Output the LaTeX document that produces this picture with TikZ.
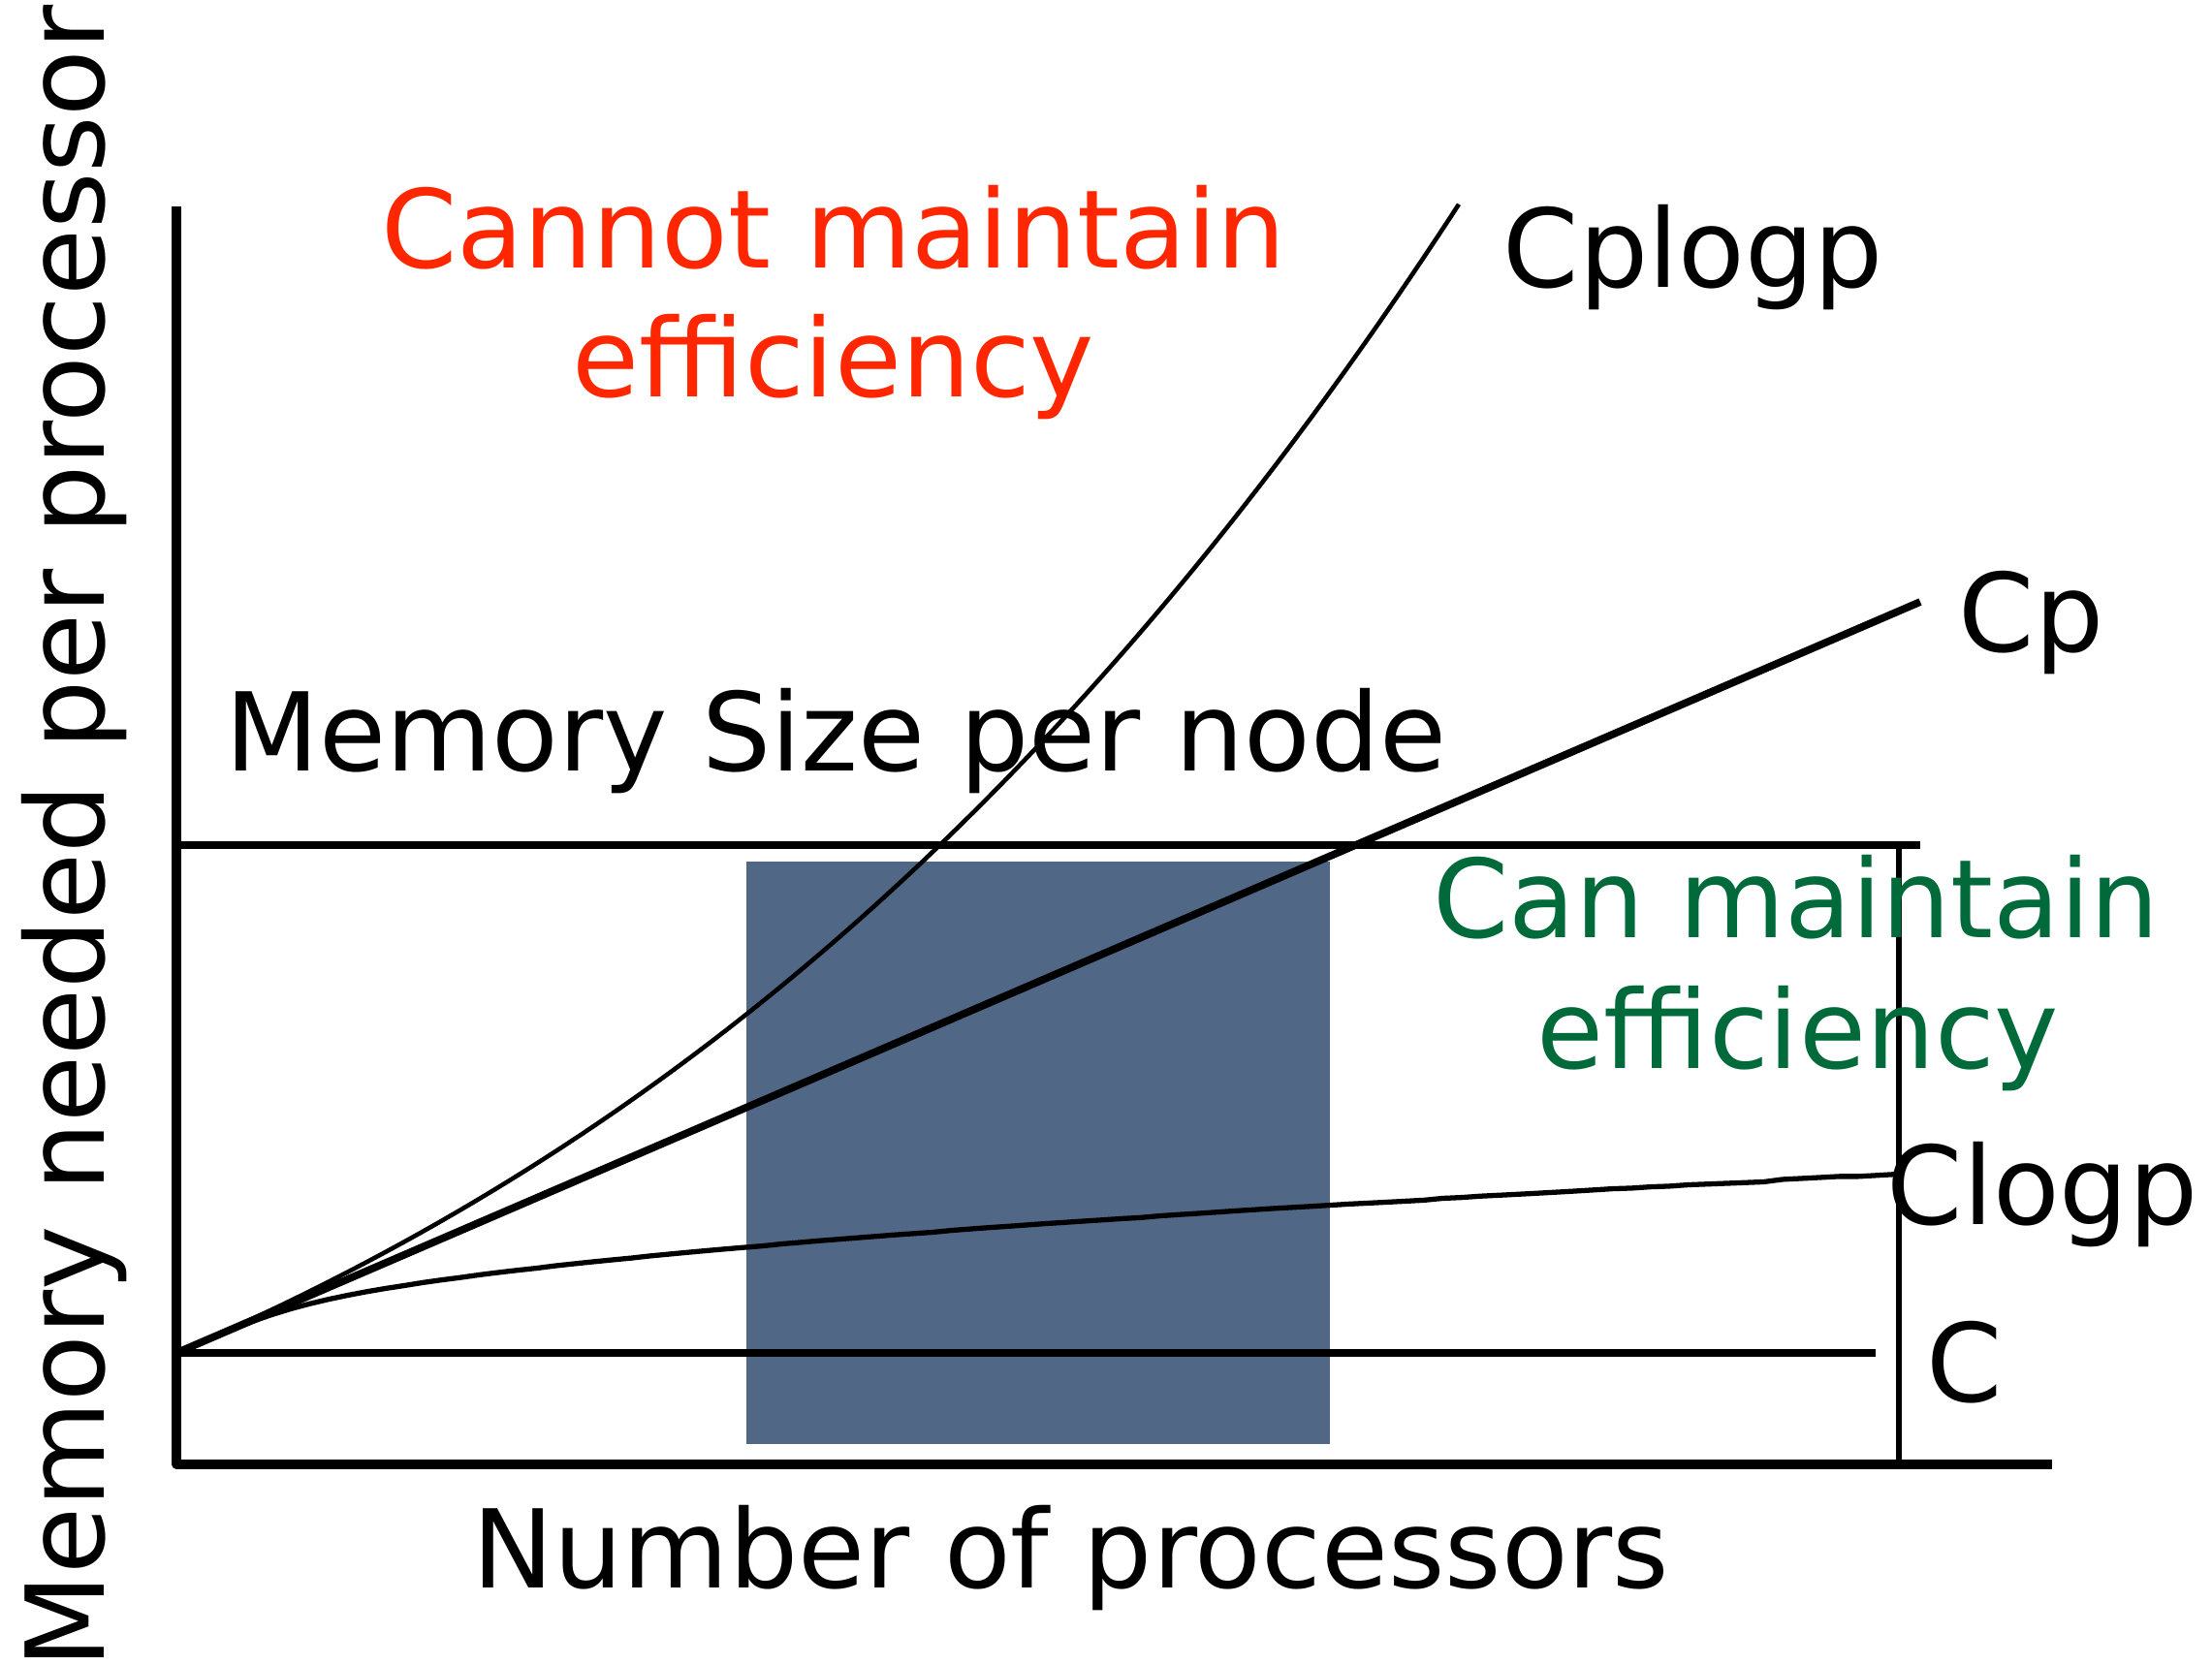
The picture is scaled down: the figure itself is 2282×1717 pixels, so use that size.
\documentclass[tikz,border=0pt]{standalone}
\usepackage{fontspec}
\setmainfont{DejaVu Sans}
\usepackage{tikz}

\definecolor{cannotred}{RGB}{255,38,0}
\definecolor{cangreen}{RGB}{0,106,58}
\definecolor{bandblue}{RGB}{80,103,134}

\begin{document}
\begin{tikzpicture}[x=0.01cm, y=-0.01cm, every node/.style={
    rectangle,
    %draw,
    inner sep=0pt,
    font=\fontsize{31.9}{38}\selectfont,
  }, line join=round,
  axisline/.style={line width=2.6pt},
  limitline/.style={line width=2.5pt},
  thinline/.style={line width=1.3pt},
  midline/.style={line width=1.5pt}]

  \useasboundingbox (0,0) rectangle (2282,1717);

  \coordinate (top) at (182,213);
  \coordinate (corner) at (182,1511);
  \coordinate (xend) at (2117,1511);
  \coordinate (o) at (182,1396);

  % range of processors
  \fill[bandblue] (770,889) rectangle (1372,1490);

  \draw[axisline] (top) -- (corner) -- (xend);

  \coordinate (m0) at (182,872);
  \coordinate (m1) at (1981,872);
  \coordinate (bar) at (1959,872);
  \draw[limitline] (m0) -- (m1);
  \draw[line width=1.6pt] (bar) -- (bar |- corner);

  \coordinate (cend) at (1935,1396);
  \coordinate (cpend) at (1981,621);
  \draw[limitline] (o) -- (cend);
  \draw[line width=2.2pt] (o) -- (cpend);

  \draw[thinline] plot[domain=0:13.23, samples=120, smooth]
    ({182+100*\x}, {1396-43.1*\x-2.187*\x*\x-0.1003*\x*\x*\x});
  % follows Cp first, then bends over
  \draw[midline] (o) -- plot[domain=40:1774, samples=90]
    ({182+\x}, {1396-50*((0.431*\x/50)^(-6)+(5.44*(\x)^0.4707/50)^(-6))^(-1/6)});

  \node[anchor=base, text=cannotred] (n0) at (860,276) {Cannot maintain};
  \node[anchor=base, text=cannotred] (n1) at (860,409) {efficiency};

  \node[anchor=base west] (n2) at (1550,296) {Cplogp};
  \node[anchor=base west] (n3) at (2020,672) {Cp};
  \node[anchor=base west] (n4) at (232,795) {Memory Size per node};

  \node[anchor=base, text=cangreen] (n5) at (1853,967) {Can maintain};
  \node[anchor=base, text=cangreen] (n6) at (1855,1102) {efficiency};

  \node[anchor=base west] (n7) at (1946,1263) {Clogp};
  \node[anchor=base west] (n8) at (1987,1446) {C};

  \node[anchor=base] (n9) at (1105,1638) {Number of processors};
  \node[rotate=90, anchor=base west] (n10) at (107,1722) {Memory needed per processor};

\end{tikzpicture}
\end{document}
